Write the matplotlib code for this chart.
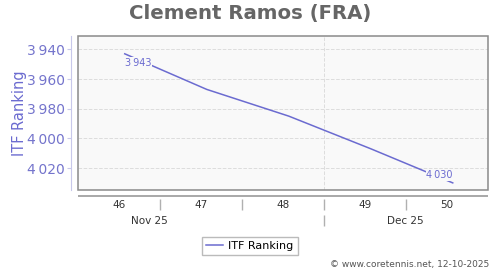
import matplotlib
matplotlib.use("Agg")
import matplotlib.pyplot as plt
from matplotlib.patches import Rectangle

# data
weeks = [46, 47, 48, 49, 50]
ranking = [3943, 3967, 3985, 4007, 4030]
y_ticks = [3940, 3960, 3980, 4000, 4020]
months = ["Nov 25", "Dec 25"]
month_pos = [46.37, 49.49]
month_break = 48.5

W, H = 500, 270
blue = "#6b6bd0"
tick_blue = "#7474cc"

fig = plt.figure(figsize=(W / 100, H / 100), dpi=100)
fig.patch.set_facecolor("white")

def box(l, t, r, b):
    return [l / W, 1 - b / H, (r - l) / W, (b - t) / H]

ax = fig.add_axes(box(78, 36, 488, 190))
ax.set_facecolor("#f9f9f9")
ax.set_xlim(45.5, 50.5)
ax.set_ylim(4034.8, 3931)

ax.plot([w + 0.07 for w in weeks], ranking, color=blue, lw=1.1, zorder=3)

def fmt(v):
    s = f"{v:,}"
    return s.replace(",", "\u2009")

ax.text(weeks[0] + 0.07, ranking[0] + 2.5, fmt(ranking[0]), color=blue, fontsize=7,
        ha="left", va="top", zorder=4,
        bbox=dict(facecolor="#f9f9f9", edgecolor="none", pad=0.5))
ax.text(weeks[-1] + 0.07, ranking[-1] - 2.0, fmt(ranking[-1]), color=blue, fontsize=7,
        ha="right", va="bottom", zorder=4,
        bbox=dict(facecolor="#f9f9f9", edgecolor="none", pad=0.5))

ax.set_yticks(y_ticks)
ax.set_yticklabels([fmt(v) for v in y_ticks], fontsize=7.6)
ax.set_xticks([])
ax.grid(axis="y", color="#dddddd", ls="--", lw=0.7)
ax.axvline(month_break, color="#dddddd", ls="--", lw=0.7)

for s in ["top", "right", "bottom"]:
    ax.spines[s].set_visible(False)
ax.spines["left"].set_position(("outward", 5))
ax.spines["left"].set_color("#c8c8ea")
ax.tick_params(axis="y", length=3, color="#c8c8ea", labelcolor=tick_blue, pad=1.5)
ax.add_patch(Rectangle((0, 0), 1, 1, transform=ax.transAxes, fill=False,
                       edgecolor="#8a8a8a", lw=1.1, clip_on=False, zorder=5))

ax.set_ylabel("ITF Ranking", color=blue, fontsize=10.5)
ax.yaxis.set_label_coords(-0.124, 0.5)

# week / month row under the chart
ax2 = fig.add_axes(box(78, 195, 488, 232))
ax2.set_xlim(45.5, 50.5)
ax2.set_ylim(37, 0)
ax2.axis("off")
ax2.axhline(0.5, color="#999999", lw=1.2)
ax2.vlines([w + 0.5 for w in weeks[:-1]], 4, 15, color="#b0b0b0", lw=1)
for w in weeks:
    ax2.text(w, 9.5, str(w), ha="center", va="center", fontsize=7.5, color="#333333")
ax2.vlines([month_break], 20, 31, color="#b0b0b0", lw=1)
for m, p in zip(months, month_pos):
    ax2.text(p, 26, m, ha="center", va="center", fontsize=7.5, color="#333333")

fig.text(250 / W, 1 - 13 / H, "Clement Ramos (FRA)", ha="center", va="center",
         fontsize=14.2, fontweight="bold", color="#666666")

leg_line, = ax.plot([], [], color=blue, lw=1.1, label="ITF Ranking")
fig.legend(handles=[leg_line], loc="center", bbox_to_anchor=(250 / W, 1 - 246 / H),
           frameon=True, fancybox=False, edgecolor="#aaaaaa", fontsize=8,
           handlelength=1.5, handletextpad=0.5, borderpad=0.4, borderaxespad=0)

fig.text(489 / W, 1 - 264 / H, "\u00a9 www.coretennis.net, 12-10-2025", ha="right",
         va="center", fontsize=6.5, color="#555555")

fig.savefig("out.png", dpi=100)
